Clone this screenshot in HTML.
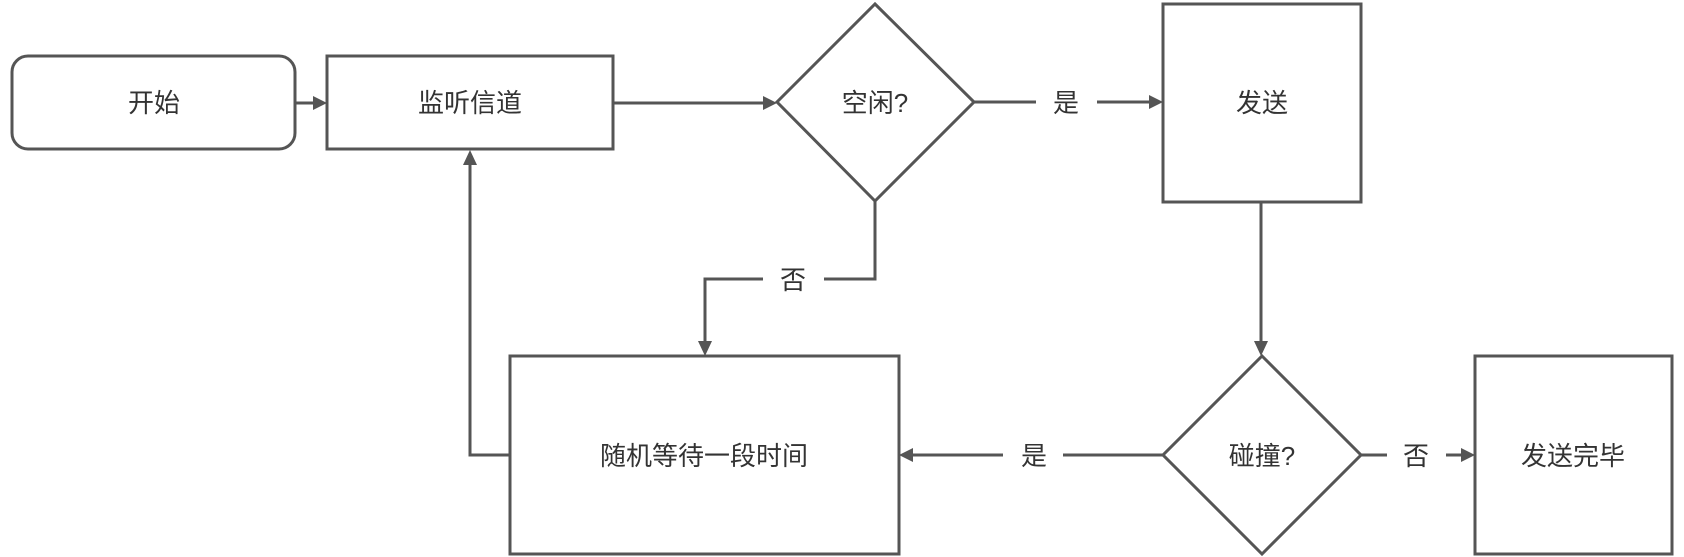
<!DOCTYPE html>
<html><head><meta charset="utf-8"><style>
html,body{margin:0;padding:0;background:#fff;}
svg{display:block;}
text{font-family:"Liberation Sans","Noto Sans CJK SC",sans-serif;font-size:26px;fill:#333;text-anchor:middle;dominant-baseline:central;}
</style></head><body>
<svg width="1684" height="557" viewBox="0 0 1684 557" xmlns="http://www.w3.org/2000/svg">
<g fill="none" stroke="#555" stroke-width="3">
<rect x="12" y="56" width="283" height="93" rx="16"/>
<rect x="327" y="56" width="286" height="93"/>
<polygon points="875,4 974,102 875,201 777,102"/>
<rect x="1163" y="4" width="198" height="198"/>
<polygon points="1262,356 1361,455 1262,554 1163,455"/>
<rect x="1475" y="356" width="197" height="198"/>
<rect x="510" y="356" width="389" height="198"/>
<!-- connectors -->
<line x1="295" y1="103" x2="315" y2="103"/>
<line x1="613" y1="103" x2="765" y2="103"/>
<line x1="974" y1="102" x2="1036" y2="102"/>
<line x1="1097" y1="102" x2="1150" y2="102"/>
<line x1="1261" y1="202" x2="1261" y2="343"/>
<line x1="1361" y1="455" x2="1387" y2="455"/>
<line x1="1446" y1="455" x2="1462" y2="455"/>
<line x1="1163" y1="455" x2="1063" y2="455"/>
<line x1="1003" y1="455" x2="913" y2="455"/>
<polyline points="510,455 470,455 470,163"/>
<polyline points="875,201 875,279 824,279"/>
<polyline points="763,279 705,279 705,343"/>
</g>
<g fill="#555">
<polygon points="327,103 313,96 313,110"/>
<polygon points="777,103 763,96 763,110"/>
<polygon points="1163,102 1149,95 1149,109"/>
<polygon points="1261,356 1254,341 1268,341"/>
<polygon points="1475,455 1461,448 1461,462"/>
<polygon points="899,455 913,448 913,462"/>
<polygon points="470,150 463,165 477,165"/>
<polygon points="705,356 698,341 712,341"/>
</g>
<text x="154" y="103">开始</text>
<text x="470" y="103">监听信道</text>
<text x="875" y="103">空闲?</text>
<text x="1066" y="103">是</text>
<text x="1262" y="103">发送</text>
<text x="793" y="280">否</text>
<text x="704" y="456">随机等待一段时间</text>
<text x="1034" y="456">是</text>
<text x="1262" y="456">碰撞?</text>
<text x="1416" y="456">否</text>
<text x="1573" y="456">发送完毕</text>
</svg>
</body></html>
